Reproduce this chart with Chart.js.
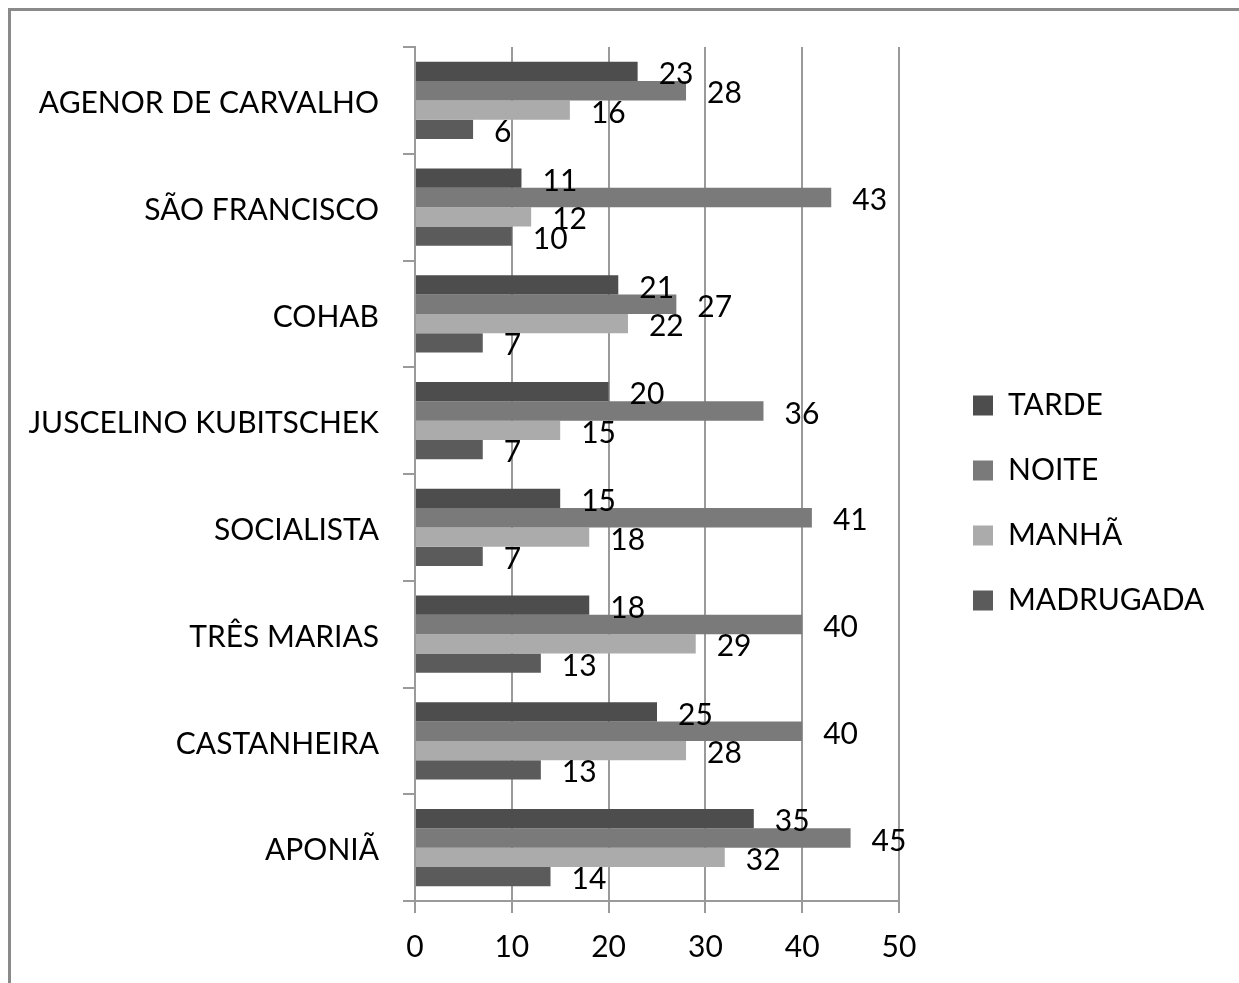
<!DOCTYPE html>
<html><head><meta charset="utf-8">
<script src="https://cdn.jsdelivr.net/npm/chart.js@4.4.1/dist/chart.umd.min.js"></script>
<style>
html,body{margin:0;padding:0;background:#fff;overflow:hidden;width:1239px;height:983px;}
#frame{position:absolute;left:8px;top:8px;width:1400px;height:1200px;border:3px solid #8a8a8a;box-sizing:border-box;}
#c{position:absolute;left:0;top:0;}
</style></head><body>
<div id="frame"></div>
<canvas id="c" width="1239" height="983"></canvas>
<script>
const categories = ['AGENOR DE CARVALHO','SÃO FRANCISCO','COHAB','JUSCELINO KUBITSCHEK','SOCIALISTA','TRÊS MARIAS','CASTANHEIRA','APONIÃ'];
const seriesNames = ['TARDE','NOITE','MANHÃ','MADRUGADA'];
const tarde = [23,11,21,20,15,18,25,35];
const noite = [28,43,27,36,41,40,40,45];
const manha = [16,12,22,15,18,29,28,32];
const madrugada = [6,10,7,7,7,13,13,14];
const xTicks = [0,10,20,30,40,50];
const seriesColors = ['#4d4d4d','#7a7a7a','#ababab','#5b5b5b'];

const FONT = 'Lato';
const FS = 30;
const LEG_PAD = 35;
const PLOT_LEFT = 415, PLOT_RIGHT = 899, LEGEND_GAP = 74, LEGEND_DY = -11;

Chart.defaults.font.family = FONT;
Chart.defaults.font.size = FS;
Chart.defaults.color = '#000';

// measure legend width to place chart area right edge
const mctx = document.createElement('canvas').getContext('2d');
mctx.font = FS + 'px ' + FONT;
const maxText = Math.max(...seriesNames.map(s => mctx.measureText(s).width));
const legendWidth = 20 + FS/2 + maxText + LEG_PAD + 10;
const padRight = 1239 - PLOT_RIGHT - legendWidth;

const valueLabels = {
  id: 'valueLabels',
  afterDatasetsDraw(chart) {
    const ctx = chart.ctx;
    ctx.save();
    ctx.font = FS + 'px ' + FONT;
    ctx.fillStyle = '#000';
    ctx.textAlign = 'left';
    ctx.textBaseline = 'middle';
    chart.data.datasets.forEach((ds, i) => {
      const meta = chart.getDatasetMeta(i);
      meta.data.forEach((bar, j) => {
        ctx.fillText(String(ds.data[j]), bar.x + 21, bar.y + 3);
      });
    });
    ctx.restore();
  }
};

const legendShift = {
  id: 'legendShift',
  afterLayout(chart) {
    const lg = chart.legend;
    if (!lg) return;
    const dx = chart.chartArea.right + LEGEND_GAP - (lg.left + LEG_PAD);
    lg.left += dx; lg.right += dx;
    lg.top += LEGEND_DY; lg.bottom += LEGEND_DY;
  }
};

const allSeries = [tarde, noite, manha, madrugada];
new Chart(document.getElementById('c'), {
  type: 'bar',
  data: {
    labels: categories,
    datasets: seriesNames.map((name, i) => ({
      label: name,
      data: allSeries[i],
      backgroundColor: seriesColors[i],
      borderWidth: 0,
      barPercentage: 1,
      categoryPercentage: 0.723
    }))
  },
  options: {
    indexAxis: 'y',
    responsive: false,
    animation: false,
    layout: { padding: { top: 47, bottom: 2, left: 0, right: padRight } },
    scales: {
      x: {
        min: 0, max: 50,
        afterBuildTicks(s) { s.ticks = xTicks.map(v => ({ value: v })); },
        ticks: { padding: 16, color: '#000', font: { size: FS } },
        grid: { color: '#9a9a9a', lineWidth: 2, tickLength: 12 },
        border: { color: '#9a9a9a', width: 2 }
      },
      y: {
        grid: { drawOnChartArea: false, drawTicks: true, tickLength: 12, offset: true, color: '#9a9a9a', lineWidth: 2 },
        border: { color: '#9a9a9a', width: 2 },
        ticks: { padding: 24, labelOffset: 3, color: '#000', font: { size: FS } },
        afterFit(s) { s.width = PLOT_LEFT; }
      }
    },
    plugins: {
      legend: {
        position: 'right',
        align: 'center',
        labels: { boxWidth: 20, boxHeight: 20, padding: LEG_PAD, color: '#000', font: { size: FS } }
      },
      tooltip: { enabled: false }
    }
  },
  plugins: [valueLabels, legendShift]
});
</script>
</body></html>
